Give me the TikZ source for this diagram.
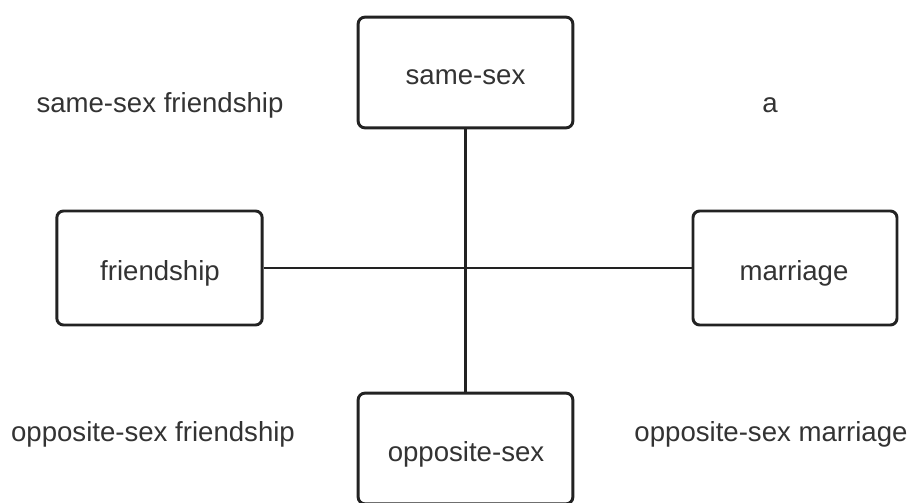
\documentclass[tikz,border=0pt]{standalone}
\usepackage{fontspec}
\setmainfont{Liberation Sans}

\definecolor{linegray}{RGB}{34,34,34}
\definecolor{textgray}{RGB}{51,51,51}

\tikzset{every picture/.style={line width=0.75pt}}
\tikzset{
  catbox/.style={draw=linegray, line width=2.2pt, rounded corners=5pt, fill=white, inner sep=0pt},
  conn/.style={draw=linegray, line width=1.9pt},
  lbl/.style={anchor=base, inner sep=0.75pt, text=textgray, font=\fontsize{20.7pt}{24pt}\selectfont}
}

\begin{document}
\begin{tikzpicture}[x=0.75pt,y=0.75pt,yscale=-1,xscale=1]
\clip (0,0) rectangle (911,503);

%Rounded Rect
\node [catbox, minimum width=161pt, minimum height=83pt] (samesex) at (465.5,72.5) {};
%Rounded Rect
\node [catbox, minimum width=161pt, minimum height=83pt] (oppsex) at (465.5,448.5) {};
%Rounded Rect
\node [catbox, minimum width=154pt, minimum height=85.5pt] (friend) at (159.5,268) {};
%Rounded Rect
\node [catbox, minimum width=153pt, minimum height=85.5pt] (marry) at (795,268) {};

%Straight Lines
\draw [conn] (samesex) -- (oppsex) ;
%Straight Lines
\draw [conn] (friend) -- (marry) ;

% Text Node
\node [lbl] (samesextxt) at (465.5,85) {same-sex};
% Text Node
\node [lbl] (oppsextxt) at (466,461) {opposite-sex};
% Text Node
\node [lbl] (friendtxt) at (160,280) {friendship};
% Text Node
\node [lbl] (marrytxt) at (794,280) {marriage};
% Text Node
\node [lbl] (ssfriend) at (160,113) {same-sex friendship};
% Text Node
\node [lbl] (ssmarry) at (770,113) {a};
% Text Node
\node [lbl] (osfriend) at (153,441) {opposite-sex friendship};
% Text Node
\node [lbl] (osmarry) at (771,441) {opposite-sex marriage};

\end{tikzpicture}
\end{document}
